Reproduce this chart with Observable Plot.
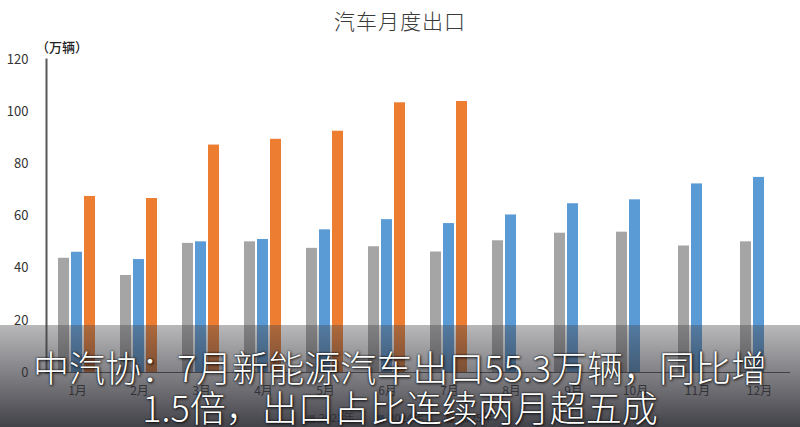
<!DOCTYPE html>
<html><head><meta charset="utf-8">
<script src="https://cdn.jsdelivr.net/npm/d3@7"></script>
<script src="https://cdn.jsdelivr.net/npm/@observablehq/plot@0.6"></script>
<style>
body{margin:0;background:#fff;font-family:"Noto Sans CJK SC","Noto Sans",sans-serif;}
#wrap{position:relative;width:800px;height:427px;overflow:hidden;background:#fff;}
#title{height:38px;line-height:40px;text-align:center;font-size:21px;color:#3a3a3a;font-weight:300;letter-spacing:1px;}
#unit{position:absolute;left:36px;top:37px;font-size:13px;color:#222;font-weight:500;}
#legend{position:absolute;top:410px;left:0;width:800px;display:flex;justify-content:center;gap:22px;font-size:11px;line-height:14px;color:#404040;}
#legend span i{display:inline-block;width:8px;height:8px;margin-right:4px;vertical-align:middle;}
#band{position:absolute;left:0;top:325px;width:800px;height:102px;background:linear-gradient(to bottom,rgba(70,70,75,0.38),rgba(40,40,48,0.88));}
.cap{position:absolute;left:0;width:800px;text-align:center;color:#fff;font-size:36px;font-weight:300;white-space:nowrap;text-shadow:0 0 2px #000,1px 1px 3px rgba(0,0,0,0.8);}
</style></head>
<body>
<div id="wrap">
  <div id="title"></div>
  <div id="chart"></div>
  <div id="unit"></div>
  <div id="legend"></div>
  <div id="band"></div>
  <div class="cap" id="cap1" style="top:344px;line-height:44px;"></div>
  <div class="cap" id="cap2" style="top:385px;line-height:42px;"></div>
</div>
<script>
const titleText = "汽车月度出口";
const unitText = "（万辆）";
const captionLines = ["中汽协：7月新能源汽车出口55.3万辆，同比增", "1.5倍，出口占比连续两月超五成"];
const months = ["1月","2月","3月","4月","5月","6月","7月","8月","9月","10月","11月","12月"];
const years = ["2023年","2024年","2025年"];
const colors = ["#A5A5A5","#5B9BD5","#ED7D31"];
const v2023 = [43.8,37.2,49.5,50.1,47.6,48.2,46.2,50.5,53.4,53.8,48.5,50.1];
const v2024 = [46.1,43.3,50.1,51.0,54.7,58.6,57.1,60.4,64.7,66.2,72.3,74.8];
const v2025 = [67.5,66.7,87.2,89.4,92.5,103.4,103.9];
const yTicks = [0,20,40,60,80,100,120];

document.getElementById("title").textContent = titleText;
document.getElementById("unit").textContent = unitText;
document.getElementById("cap1").textContent = captionLines[0];
document.getElementById("cap2").textContent = captionLines[1];

const series = [v2023, v2024, v2025];
const data = [];
series.forEach((vals, i) => vals.forEach((v, j) => data.push({month: months[j], year: years[i], value: v})));

const lg = document.getElementById("legend");
years.forEach((y, i) => {
  const s = document.createElement("span");
  s.innerHTML = `<i style="background:${colors[i]}"></i>${y}`;
  lg.appendChild(s);
});

const chart = Plot.plot({
  width: 800,
  height: 389,
  marginLeft: 43,
  marginRight: 7,
  marginTop: 21,
  marginBottom: 55,
  style: {fontFamily: "'Noto Sans CJK SC', sans-serif", color: "#333", background: "transparent"},
  fx: {domain: months, padding: 0, label: null},
  x: {domain: years, paddingInner: 0.15, paddingOuter: 0.89, axis: null},
  y: {domain: [0, 120], label: null},
  color: {domain: years, range: colors},
  marks: [
    Plot.axisY({ticks: yTicks, tickSize: 0, tickPadding: 18, fontSize: 13, label: null, fill: "#333"}),
    Plot.axisFx({anchor: "bottom", tickSize: 0, tickPadding: 14, fontSize: 12, label: null, fill: "#404040"}),
    Plot.barY(data, {fx: "month", x: "year", y: "value", fill: "year"}),
    Plot.ruleY([0], {stroke: "#595959", strokeWidth: 1.2}),
    Plot.frame({anchor: "left", facet: "super", stroke: "#595959", strokeWidth: 2})
  ]
});
document.getElementById("chart").appendChild(chart);
</script>
</body></html>
